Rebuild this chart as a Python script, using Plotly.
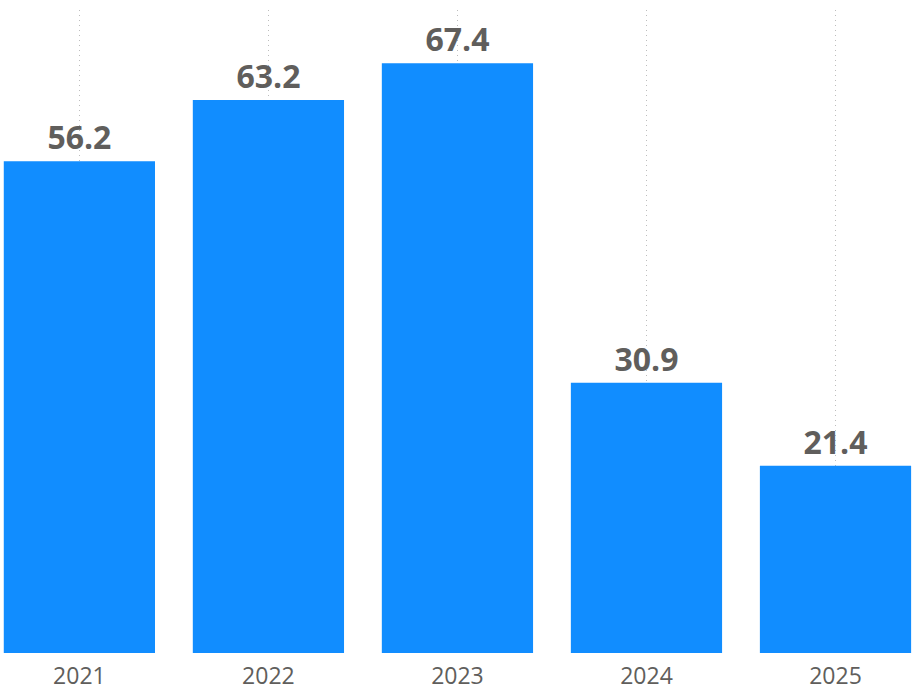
import plotly.graph_objs as go

# data
years = ['2021', '2022', '2023', '2024', '2025']
values = [56.2, 63.2, 67.4, 30.9, 21.4]
labels = ['56.2', '63.2', '67.4', '30.9', '21.4']

trace = go.Bar(
    x=years,
    y=values,
    text=labels,
    textposition='outside',
    cliponaxis=False,
    textfont=dict(family='Open Sans', size=32, color='#605E5C', weight='bold'),
    marker=dict(color='#118DFF', line=dict(width=0)),
    width=0.8,
    hoverinfo='x+y')

layout = go.Layout(
    width=913,
    height=695,
    margin=dict(l=0, r=0, t=10, b=42),
    paper_bgcolor='white',
    plot_bgcolor='white',
    showlegend=False,
    xaxis=dict(
        type='category',
        range=[-0.42, 4.41],
        showgrid=True,
        gridcolor='#BDBDBD',
        griddash='1px,4px',
        gridwidth=1,
        showline=False,
        ticks='',
        ticklabelstandoff=7,
        tickfont=dict(family='Open Sans', size=23, color='#605E5C')),
    yaxis=dict(
        range=[0, 73.5],
        showgrid=False,
        zeroline=False,
        showticklabels=False))

fig = go.Figure(data=[trace], layout=layout)
# drop the default page margin so the chart fills the window
fig.write_html('out.html', config={'displayModeBar': False},
               post_script="document.body.style.margin='0';")
